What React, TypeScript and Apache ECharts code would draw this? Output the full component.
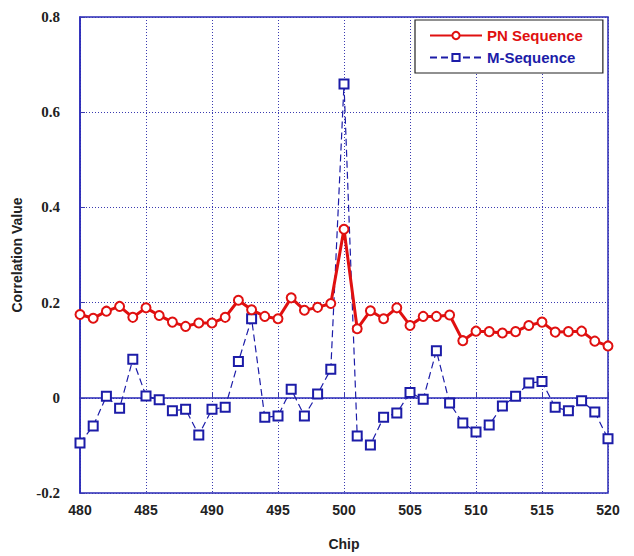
import React, { useEffect, useRef } from "react";
import * as echarts from "echarts";

const chips = [480,481,482,483,484,485,486,487,488,489,490,491,492,493,494,495,496,497,498,499,500,501,502,503,504,505,506,507,508,509,510,511,512,513,514,515,516,517,518,519,520];
const pnSequence = [0.175,0.167,0.182,0.192,0.169,0.189,0.173,0.159,0.150,0.157,0.157,0.169,0.205,0.185,0.171,0.166,0.210,0.184,0.190,0.198,0.354,0.145,0.183,0.166,0.189,0.152,0.171,0.171,0.174,0.120,0.140,0.139,0.136,0.139,0.152,0.159,0.138,0.139,0.140,0.119,0.109];
const mSequence = [-0.095,-0.059,0.003,-0.022,0.081,0.004,-0.004,-0.027,-0.024,-0.078,-0.024,-0.020,0.076,0.166,-0.041,-0.038,0.018,-0.038,0.008,0.060,0.659,-0.080,-0.099,-0.041,-0.032,0.011,-0.003,0.099,-0.011,-0.053,-0.072,-0.057,-0.017,0.003,0.031,0.034,-0.020,-0.027,-0.006,-0.030,-0.086];
const xTicks = { min: 480, max: 520, interval: 5 };
const yTicks = { min: -0.2, max: 0.8, interval: 0.2 };

const AXIS_BLUE = "#2a2ab8";
const GRID_BLUE = "#3a3ab0";
const RED = "#e01010";
const BLUE = "#1c1ca8";

export default function App() {
  const ref = useRef<HTMLDivElement>(null);
  useEffect(() => {
    if (!ref.current) return;
    const chart = echarts.init(ref.current, null, { renderer: "svg" });
    chart.setOption({
      animation: false,
      backgroundColor: "#ffffff",
      grid: {
        left: 80, right: 26, top: 17, bottom: 63,
        show: true, borderColor: AXIS_BLUE, borderWidth: 1.5, backgroundColor: "#ffffff",
      },
      legend: {
        left: 415, top: 20,
        orient: "vertical",
        itemWidth: 52, itemHeight: 9, itemGap: 7,
        backgroundColor: "#ffffff",
        borderColor: "#222222", borderWidth: 1.2, borderRadius: 0,
        padding: [8, 20, 8, 14],
        textStyle: { fontFamily: "Liberation Sans, Arial", fontWeight: "bold", fontSize: 15 },
        data: [
          { name: "PN Sequence", textStyle: { color: RED } },
          { name: "M-Sequence", textStyle: { color: BLUE } },
        ],
      },
      xAxis: {
        type: "value",
        min: xTicks.min, max: xTicks.max, interval: xTicks.interval,
        name: "Chip", nameLocation: "middle", nameGap: 44,
        nameTextStyle: { fontFamily: "Liberation Sans, Arial", fontWeight: "bold", fontSize: 14, color: "#222" },
        axisLine: { lineStyle: { color: AXIS_BLUE, width: 1.5 } },
        axisTick: { show: true, inside: true, length: 5, lineStyle: { color: GRID_BLUE } },
        axisLabel: { fontFamily: "Liberation Sans, Arial", fontWeight: "bold", fontSize: 14, color: "#222", margin: 10 },
        splitLine: { show: true, lineStyle: { color: GRID_BLUE, type: [1, 2], width: 1 } },
      },
      yAxis: {
        type: "value",
        min: yTicks.min, max: yTicks.max, interval: yTicks.interval,
        name: "Correlation Value", nameLocation: "middle", nameGap: 56,
        nameTextStyle: { fontFamily: "Liberation Sans Narrow, Liberation Sans, Arial", fontWeight: "bold", fontSize: 14, color: "#222" },
        axisLine: { lineStyle: { color: AXIS_BLUE, width: 1.5 } },
        axisTick: { show: true, inside: true, length: 5, lineStyle: { color: GRID_BLUE } },
        axisLabel: {
          fontFamily: "Liberation Serif, Times New Roman, serif", fontWeight: "bold", fontSize: 15, color: "#222", margin: 20,
          formatter: (v: number) => (Math.abs(v) < 1e-9 ? "0" : String(Math.round(v * 10) / 10)),
        },
        splitLine: { show: true, lineStyle: { color: GRID_BLUE, type: [1, 2], width: 1 } },
      },
      series: [
        {
          name: "M-Sequence",
          type: "line",
          data: chips.map((c, i) => [c, mSequence[i]]),
          symbol: "emptyRect", symbolSize: 9,
          itemStyle: { color: BLUE, borderColor: BLUE, borderWidth: 1.2 },
          lineStyle: { color: BLUE, width: 1.2, type: [7, 4] },
          z: 2,
        },
        {
          name: "PN Sequence",
          type: "line",
          data: chips.map((c, i) => [c, pnSequence[i]]),
          symbol: "emptyCircle", symbolSize: 9,
          itemStyle: { color: RED, borderColor: "#c03030", borderWidth: 1.2 },
          lineStyle: { color: RED, width: 3 },
          z: 3,
        },
      ],
    });
    return () => chart.dispose();
  }, []);
  return <div ref={ref} style={{ width: 634, height: 556, position: "absolute", left: 0, top: 0 }} />;
}
